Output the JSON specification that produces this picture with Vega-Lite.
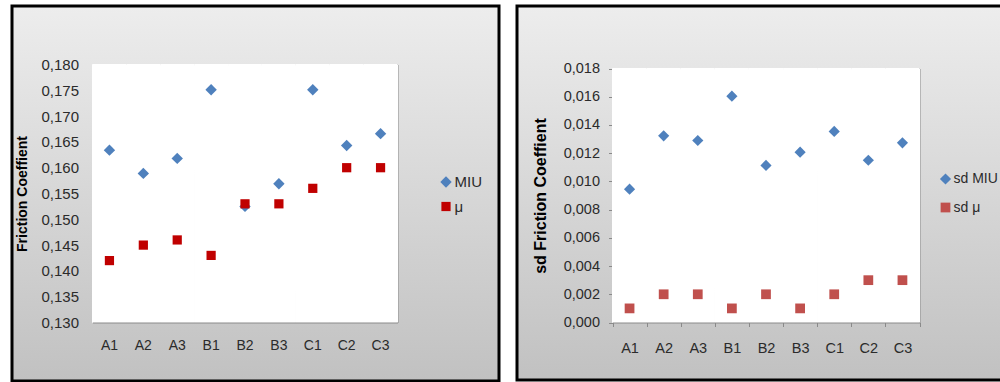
{
  "$schema": "https://vega.github.io/schema/vega-lite/v6.json",
  "padding": {"left": 10, "top": 4, "right": 0, "bottom": 0},
  "background": "white",
  "spacing": 14,
  "datasets": {
    "mean": [
      {"cat": "A1", "series": "MIU", "value": 0.1634},
      {"cat": "A2", "series": "MIU", "value": 0.1589},
      {"cat": "A3", "series": "MIU", "value": 0.1618},
      {"cat": "B1", "series": "MIU", "value": 0.1751},
      {"cat": "B2", "series": "MIU", "value": 0.1525},
      {"cat": "B3", "series": "MIU", "value": 0.1569},
      {"cat": "C1", "series": "MIU", "value": 0.1751},
      {"cat": "C2", "series": "MIU", "value": 0.1643},
      {"cat": "C3", "series": "MIU", "value": 0.1666},
      {"cat": "A1", "series": "μ", "value": 0.142},
      {"cat": "A2", "series": "μ", "value": 0.145},
      {"cat": "A3", "series": "μ", "value": 0.146},
      {"cat": "B1", "series": "μ", "value": 0.143},
      {"cat": "B2", "series": "μ", "value": 0.153},
      {"cat": "B3", "series": "μ", "value": 0.153},
      {"cat": "C1", "series": "μ", "value": 0.156},
      {"cat": "C2", "series": "μ", "value": 0.160},
      {"cat": "C3", "series": "μ", "value": 0.160}
    ],
    "sd": [
      {"cat": "A1", "sdseries": "sd MIU", "sdvalue": 0.00945},
      {"cat": "A2", "sdseries": "sd MIU", "sdvalue": 0.01323},
      {"cat": "A3", "sdseries": "sd MIU", "sdvalue": 0.0129},
      {"cat": "B1", "sdseries": "sd MIU", "sdvalue": 0.01604},
      {"cat": "B2", "sdseries": "sd MIU", "sdvalue": 0.01113},
      {"cat": "B3", "sdseries": "sd MIU", "sdvalue": 0.01207},
      {"cat": "C1", "sdseries": "sd MIU", "sdvalue": 0.01354},
      {"cat": "C2", "sdseries": "sd MIU", "sdvalue": 0.0115},
      {"cat": "C3", "sdseries": "sd MIU", "sdvalue": 0.01273},
      {"cat": "A1", "sdseries": "sd μ", "sdvalue": 0.001},
      {"cat": "A2", "sdseries": "sd μ", "sdvalue": 0.002},
      {"cat": "A3", "sdseries": "sd μ", "sdvalue": 0.002},
      {"cat": "B1", "sdseries": "sd μ", "sdvalue": 0.001},
      {"cat": "B2", "sdseries": "sd μ", "sdvalue": 0.002},
      {"cat": "B3", "sdseries": "sd μ", "sdvalue": 0.001},
      {"cat": "C1", "sdseries": "sd μ", "sdvalue": 0.002},
      {"cat": "C2", "sdseries": "sd μ", "sdvalue": 0.003},
      {"cat": "C3", "sdseries": "sd μ", "sdvalue": 0.003}
    ]
  },
  "hconcat": [
    {
      "width": 487,
      "height": 375,
      "data": {"name": "mean"},
      "layer": [
        {
          "transform": [{"filter": "datum.series === 'MIU'"}],
          "mark": {"type": "rect", "fill": "white", "stroke": "white", "strokeWidth": 1},
          "encoding": {
            "x": {
              "field": "cat", "type": "nominal", "sort": null,
              "scale": {"type": "band", "range": [80.5, 385.5], "paddingInner": 0, "paddingOuter": 0},
              "axis": {"orient": "bottom", "offset": -58.5, "title": null, "labelAngle": 0, "ticks": false, "tickSize": 0, "labelPadding": 16, "domainColor": "#8a8a8a", "domainWidth": 1, "labelFontSize": 14}
            },
            "y": {
              "datum": 0.13, "type": "quantitative",
              "scale": {"domain": [0.13, 0.18], "range": [316.5, 58.5], "nice": false, "zero": false},
              "axis": {
                "orient": "left", "offset": -80.5, "grid": false, "ticks": false, "tickSize": 0, "labelPadding": 14,
                "values": [0.13, 0.135, 0.14, 0.145, 0.15, 0.155, 0.16, 0.165, 0.17, 0.175, 0.18],
                "labelExpr": "replace(format(datum.value, '.3f'), '.', ',')",
                "labelFontSize": 15, "domainColor": "#8a8a8a", "domainWidth": 1,
                "title": "Friction Coeffient", "titleX": -70, "titleBaseline": "middle", "titleFontSize": 14
              }
            },
            "y2": {"datum": 0.18}
          }
        },
        {
          "mark": {"type": "point", "filled": true, "opacity": 1},
          "encoding": {
            "x": {
              "field": "cat", "type": "nominal", "sort": null,
              "axis": {"orient": "top", "offset": -58.5, "labels": false, "ticks": false, "title": null, "domainColor": "#111", "domainWidth": 1.5}
            },
            "y": {
              "field": "value", "type": "quantitative",
              "axis": {"orient": "right", "offset": -101.5, "labels": false, "ticks": false, "grid": false, "title": null, "domainColor": "#8a8a8a", "domainWidth": 1}
            },
            "color": {
              "field": "series", "type": "nominal",
              "scale": {"domain": ["MIU", "μ"], "range": ["#4F81BD", "#C00000"]},
              "legend": {"orient": "none", "legendX": 426.5, "legendY": 168.5, "title": null, "labelFontSize": 15, "rowPadding": 8.5, "labelOffset": 1, "padding": 0, "symbolSize": 115, "symbolStrokeWidth": 0}
            },
            "shape": {
              "field": "series", "type": "nominal",
              "scale": {"domain": ["MIU", "μ"], "range": ["diamond", "square"]},
              "legend": {"orient": "none", "legendX": 426.5, "legendY": 168.5, "title": null, "labelFontSize": 15, "rowPadding": 8.5, "labelOffset": 1, "padding": 0, "symbolSize": 115, "symbolStrokeWidth": 0}
            },
            "size": {
              "field": "series", "type": "nominal",
              "scale": {"domain": ["MIU", "μ"], "range": [130, 85]},
              "legend": null
            }
          }
        }
      ],
      "resolve": {"axis": {"x": "independent", "y": "independent"}}
    },
    {
      "width": 490,
      "height": 374,
      "data": {"name": "sd"},
      "layer": [
        {
          "transform": [{"filter": "datum.sdseries === 'sd MIU'"}],
          "mark": {"type": "rect", "fill": "white", "stroke": "white", "strokeWidth": 1},
          "encoding": {
            "x": {
              "field": "cat", "type": "nominal", "sort": null,
              "scale": {"type": "band", "range": [95.5, 402.5], "paddingInner": 0, "paddingOuter": 0},
              "axis": {"orient": "bottom", "offset": -57.5, "title": null, "labelAngle": 0, "ticks": true, "tickBand": "extent", "tickSize": 4, "tickColor": "#8a8a8a", "labelPadding": 15, "domainColor": "#8a8a8a", "domainWidth": 1, "labelFontSize": 14.5}
            },
            "y": {
              "datum": 0, "type": "quantitative",
              "scale": {"domain": [0, 0.018], "range": [316.5, 62.5], "nice": false, "zero": false},
              "axis": {
                "orient": "left", "offset": -95.5, "grid": false, "ticks": true, "tickSize": 4, "tickColor": "#8a8a8a", "labelPadding": 9,
                "values": [0, 0.002, 0.004, 0.006, 0.008, 0.01, 0.012, 0.014, 0.016, 0.018],
                "labelExpr": "replace(format(datum.value, '.3f'), '.', ',')",
                "labelFontSize": 14.5, "domainColor": "#8a8a8a", "domainWidth": 1,
                "title": "sd Friction Coeffient", "titleX": -72, "titleBaseline": "middle", "titleFontSize": 16
              }
            },
            "y2": {"datum": 0.018}
          }
        },
        {
          "mark": {"type": "point", "filled": true, "opacity": 1},
          "encoding": {
            "x": {
              "field": "cat", "type": "nominal", "sort": null,
              "axis": {"orient": "top", "offset": -62.5, "labels": false, "ticks": false, "title": null, "domainColor": "#111", "domainWidth": 1.5}
            },
            "y": {
              "field": "sdvalue", "type": "quantitative",
              "axis": {"orient": "right", "offset": -87.5, "labels": false, "ticks": false, "grid": false, "title": null, "domainColor": "#8a8a8a", "domainWidth": 1}
            },
            "color": {
              "field": "sdseries", "type": "nominal",
              "scale": {"domain": ["sd MIU", "sd μ"], "range": ["#4F81BD", "#C0504D"]},
              "legend": {"orient": "none", "legendX": 421.5, "legendY": 166, "title": null, "labelFontSize": 14, "rowPadding": 14.5, "labelOffset": 1, "padding": 0, "symbolSize": 110, "symbolStrokeWidth": 0}
            },
            "shape": {
              "field": "sdseries", "type": "nominal",
              "scale": {"domain": ["sd MIU", "sd μ"], "range": ["diamond", "square"]},
              "legend": {"orient": "none", "legendX": 421.5, "legendY": 166, "title": null, "labelFontSize": 14, "rowPadding": 14.5, "labelOffset": 1, "padding": 0, "symbolSize": 110, "symbolStrokeWidth": 0}
            },
            "size": {
              "field": "sdseries", "type": "nominal",
              "scale": {"domain": ["sd MIU", "sd μ"], "range": [125, 95]},
              "legend": null
            }
          }
        }
      ],
      "resolve": {"axis": {"x": "independent", "y": "independent"}}
    }
  ],
  "resolve": {
    "scale": {"x": "independent", "y": "independent", "color": "independent", "shape": "independent", "size": "independent"},
    "legend": {"color": "independent", "shape": "independent"}
  },
  "config": {
    "font": "Liberation Sans",
    "view": {
      "fill": {
        "gradient": "linear", "x1": 0, "y1": 0, "x2": 0, "y2": 1,
        "stops": [{"offset": 0, "color": "#ededed"}, {"offset": 1, "color": "#c1c1c1"}]
      },
      "stroke": "#000000",
      "strokeWidth": 3
    },
    "axis": {
      "labelFont": "Liberation Sans",
      "labelColor": "#2b2b2b",
      "titleFont": "Liberation Sans",
      "titleFontWeight": "bold",
      "titleColor": "#000000",
      "grid": false
    },
    "legend": {
      "labelFont": "Liberation Sans",
      "labelColor": "#2b2b2b"
    }
  }
}
